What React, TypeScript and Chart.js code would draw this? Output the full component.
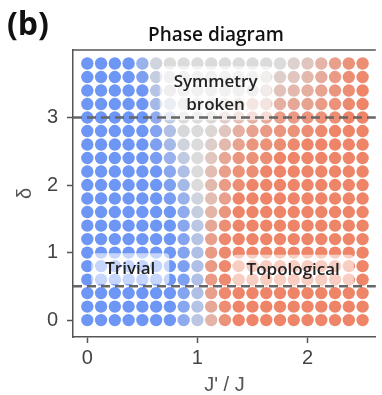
import React, { useEffect, useRef } from "react";
import { Chart, registerables } from "chart.js";

Chart.register(...registerables);

// J'/J values of the grid columns
const couplingRatios = [0, 0.125, 0.25, 0.375, 0.5, 0.625, 0.75, 0.875, 1, 1.125, 1.25, 1.375, 1.5, 1.625, 1.75, 1.875, 2, 2.125, 2.25, 2.375, 2.5];
// delta values of the grid rows (top to bottom)
const deltaValues = [3.8, 3.6, 3.4, 3.2, 3.0, 2.8, 2.6, 2.4, 2.2, 2.0, 1.8, 1.6, 1.4, 1.2, 1.0, 0.8, 0.6, 0.4, 0.2, 0.0];

// order parameter per row: -1 = trivial (blue), 0 = symmetry broken (grey), +1 = topological (red)
const row38 = [-1, -1, -1, -1, -0.6, -0.1, 0, 0, 0, 0, 0, 0, 0, 0, 0, 0.1, 0.25, 0.45, 0.7, 0.85, 0.9];
const row36 = [-1, -1, -1, -1, -0.85, -0.2, 0, 0, 0, 0, 0, 0, 0, 0.05, 0.15, 0.25, 0.4, 0.55, 0.75, 0.9, 0.95];
const row34 = [-1, -1, -1, -1, -1, -0.35, -0.05, 0, 0, 0, 0, 0, 0.05, 0.15, 0.3, 0.4, 0.5, 0.65, 0.8, 0.9, 1];
const row32 = [-1, -1, -1, -1, -1, -0.5, -0.15, 0, 0, 0, 0.05, 0.15, 0.3, 0.4, 0.5, 0.6, 0.65, 0.75, 0.85, 0.95, 1];
const row30 = [-1, -1, -1, -1, -1, -0.7, -0.25, 0, 0, 0.05, 0.15, 0.35, 0.5, 0.6, 0.7, 0.75, 0.8, 0.85, 0.9, 1, 1];
const row28 = [-1, -1, -1, -1, -1, -0.8, -0.4, -0.05, 0, 0.05, 0.25, 0.5, 0.65, 0.75, 0.8, 0.85, 0.9, 0.95, 1, 1, 1];
const row26 = [-1, -1, -1, -1, -1, -0.85, -0.5, -0.12, 0, 0.15, 0.4, 0.65, 0.8, 0.85, 0.9, 0.95, 1, 1, 1, 1, 1];
const row24 = [-1, -1, -1, -1, -1, -0.9, -0.6, -0.25, 0, 0.25, 0.6, 0.8, 0.85, 0.9, 1, 1, 1, 1, 1, 1, 1];
const row22 = [-1, -1, -1, -1, -1, -1, -0.75, -0.4, 0, 0.35, 0.7, 0.85, 0.9, 1, 1, 1, 1, 1, 1, 1, 1];
const row20 = [-1, -1, -1, -1, -1, -1, -0.85, -0.5, 0, 0.4, 0.75, 0.9, 1, 1, 1, 1, 1, 1, 1, 1, 1];
const row18 = [-1, -1, -1, -1, -1, -1, -0.9, -0.6, -0.1, 0.35, 0.7, 1, 1, 1, 1, 1, 1, 1, 1, 1, 1];
const row16 = [-1, -1, -1, -1, -1, -1, -1, -0.7, -0.2, 0.45, 0.8, 1, 1, 1, 1, 1, 1, 1, 1, 1, 1];
const row14 = [-1, -1, -1, -1, -1, -1, -1, -0.75, -0.3, 0.6, 0.9, 1, 1, 1, 1, 1, 1, 1, 1, 1, 1];
const row12 = [-1, -1, -1, -1, -1, -1, -1, -0.8, -0.35, 0.7, 0.95, 1, 1, 1, 1, 1, 1, 1, 1, 1, 1];
const row10 = [-1, -1, -1, -1, -1, -1, -1, -0.8, -0.4, 0.75, 0.95, 1, 1, 1, 1, 1, 1, 1, 1, 1, 1];
const row08 = [-1, -1, -1, -1, -1, -1, -1, -0.85, -0.4, 0.75, 0.95, 1, 1, 1, 1, 1, 1, 1, 1, 1, 1];
const row06 = [-1, -1, -1, -1, -1, -1, -1, -0.85, -0.4, 0.75, 0.95, 1, 1, 1, 1, 1, 1, 1, 1, 1, 1];
const row04 = [-1, -1, -1, -1, -1, -1, -1, -0.8, -0.4, 0.7, 0.95, 1, 1, 1, 1, 1, 1, 1, 1, 1, 1];
const row02 = [-1, -1, -1, -1, -1, -1, -1, -0.75, -0.35, 0.6, 0.9, 1, 1, 1, 1, 1, 1, 1, 1, 1, 1];
const row00 = [-1, -1, -1, -1, -1, -1, -1, -0.7, -0.3, 0.45, 0.85, 1, 1, 1, 1, 1, 1, 1, 1, 1, 1];

const orderRows = [row38, row36, row34, row32, row30, row28, row26, row24, row22, row20, row18, row16, row14, row12, row10, row08, row06, row04, row02, row00];

const boundaryDeltas = [3, 0.5];
const xTickValues = [0, 1, 2];
const yTickValues = [0, 1, 2, 3];

const regionTexts = [["Symmetry", "broken"], ["Trivial"], ["Topological"]];
const regionAnchorsX = [1.165, 0.39, 1.87];
const regionAnchorsY = [3.36, 0.76, 0.74];

const BLUE = [110, 150, 245];
const GREY = [219, 219, 219];
const RED = [238, 133, 104];

function mix(a: number[], b: number[], t: number) {
  const c = a.map((v, i) => Math.round(v + (b[i] - v) * t));
  return `rgb(${c[0]},${c[1]},${c[2]})`;
}
function colorFor(v: number) {
  return v < 0 ? mix(GREY, BLUE, -v) : mix(GREY, RED, v);
}

const points: { x: number; y: number; v: number }[] = [];
orderRows.forEach((row, r) => {
  row.forEach((v, c) => {
    points.push({ x: couplingRatios[c], y: deltaValues[r], v });
  });
});

const LABEL_FONT = "600 17px 'Open Sans'";

const overlayPlugin = {
  id: "overlay",
  afterDatasetDraw(chart: any, args: any) {
    if (args.index !== 0) return;
    const { ctx, scales } = chart;
    ctx.save();
    ctx.font = LABEL_FONT;
    regionTexts.forEach((lines, i) => {
      const cx = scales.x.getPixelForValue(regionAnchorsX[i]);
      const cy = scales.y.getPixelForValue(regionAnchorsY[i]);
      const w = Math.max(...lines.map((l) => ctx.measureText(l).width)) + 28;
      const h = lines.length * 23 + 8;
      ctx.fillStyle = "rgba(255,255,255,0.6)";
      ctx.beginPath();
      (ctx as any).roundRect(cx - w / 2, cy - h / 2, w, h, 4);
      ctx.fill();
    });
    ctx.restore();
  },
  afterDatasetsDraw(chart: any) {
    const { ctx, scales, chartArea } = chart;
    ctx.save();
    // dashed phase boundaries
    ctx.strokeStyle = "#666";
    ctx.lineWidth = 2.5;
    ctx.setLineDash([9, 5]);
    boundaryDeltas.forEach((d) => {
      const y = scales.y.getPixelForValue(d);
      ctx.beginPath();
      ctx.moveTo(chartArea.left, y);
      ctx.lineTo(chartArea.right, y);
      ctx.stroke();
    });
    ctx.setLineDash([]);
    // top frame line
    ctx.strokeStyle = "#555";
    ctx.lineWidth = 1.5;
    ctx.beginPath();
    ctx.moveTo(chartArea.left, chartArea.top);
    ctx.lineTo(chartArea.right, chartArea.top);
    ctx.stroke();
    // region labels
    ctx.font = LABEL_FONT;
    ctx.fillStyle = "#222";
    ctx.textAlign = "center";
    ctx.textBaseline = "middle";
    regionTexts.forEach((lines, i) => {
      const cx = scales.x.getPixelForValue(regionAnchorsX[i]);
      const cy = scales.y.getPixelForValue(regionAnchorsY[i]);
      lines.forEach((l, k) => {
        ctx.fillText(l, cx, cy + (k - (lines.length - 1) / 2) * 23);
      });
    });
    // title and panel letter
    ctx.font = "600 19px 'Open Sans'";
    ctx.fillStyle = "#111";
    ctx.fillText("Phase diagram", 216, 36);
    ctx.font = "700 32px 'Open Sans'";
    ctx.textAlign = "left";
    ctx.fillText("(b)", 7, 26);
    ctx.restore();
  },
};

export default function App() {
  const ref = useRef<HTMLCanvasElement | null>(null);
  useEffect(() => {
    if (!ref.current) return;
    const axisColor = "#555";
    const tickFont = { family: "'Liberation Sans', Arial, sans-serif", size: 20 };
    const chart = new Chart(ref.current, {
      type: "scatter",
      data: {
        datasets: [
          {
            data: points as any,
            pointRadius: 6.2,
            pointHoverRadius: 6.2,
            pointBorderWidth: 0,
            backgroundColor: (c: any) => colorFor(c.raw ? c.raw.v : 0),
            order: 2,
          } as any,
        ],
      },
      options: {
        animation: false,
        responsive: false,
        events: [],
        layout: { padding: { top: 50, left: 0, right: 0, bottom: 0 } },
        plugins: { legend: { display: false }, tooltip: { enabled: false }, title: { display: false } },
        scales: {
          x: {
            type: "linear",
            min: -0.13,
            max: 2.62,
            afterFit: (s: any) => { s.height = 58; },
            afterBuildTicks: (s: any) => { s.ticks = xTickValues.map((v) => ({ value: v })); },
            grid: { drawOnChartArea: false, drawTicks: true, tickLength: 6, tickWidth: 1.5, tickColor: axisColor },
            border: { display: true, color: axisColor, width: 1.5 },
            ticks: { font: tickFont, color: "#444", padding: 3, maxRotation: 0 },
            title: { display: true, text: "J' / J", font: { ...tickFont, lineHeight: 1 }, color: "#555", padding: { top: 0, bottom: 0 } },
          },
          y: {
            type: "linear",
            min: -0.25,
            max: 4.0,
            afterFit: (s: any) => { s.width = 73; },
            afterBuildTicks: (s: any) => { s.ticks = yTickValues.map((v) => ({ value: v })); },
            grid: { drawOnChartArea: false, drawTicks: true, tickLength: 6, tickWidth: 1.5, tickColor: axisColor },
            border: { display: true, color: axisColor, width: 1.5 },
            ticks: { font: tickFont, color: "#444", padding: 9 },
            title: { display: true, text: "δ", font: { ...tickFont, lineHeight: 1 }, color: "#555", padding: { top: 15, bottom: 0 } },
          },
        },
      } as any,
      plugins: [overlayPlugin],
    });
    return () => chart.destroy();
  }, []);
  return (
    <div style={{ position: "absolute", left: 0, top: 0, width: 382, height: 395, background: "#fff" }}>
      <canvas ref={ref} width={382} height={395} style={{ display: "block" }} />
    </div>
  );
}
